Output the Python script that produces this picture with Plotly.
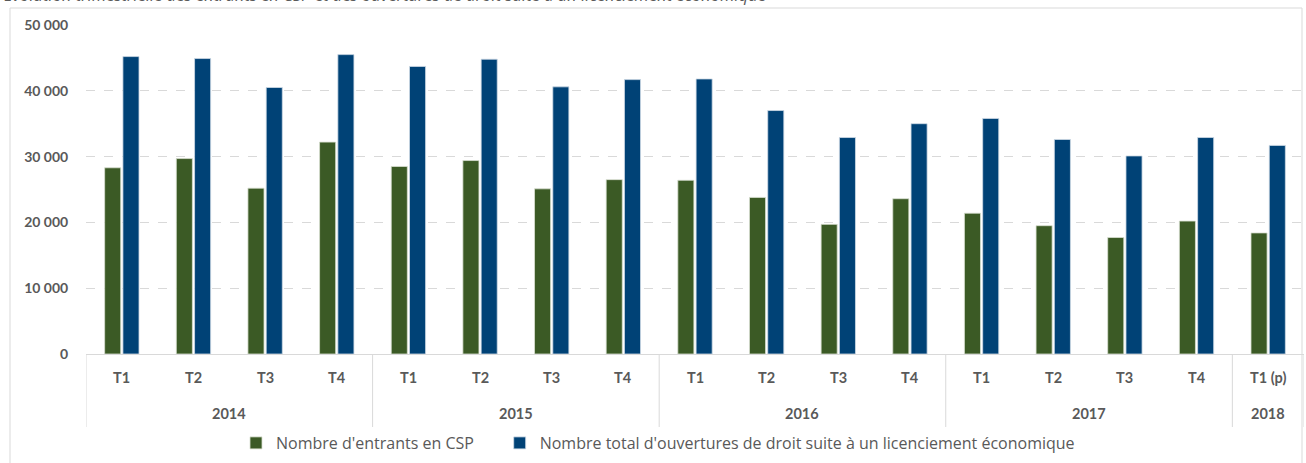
import plotly.graph_objects as go

years = ["2014"] * 4 + ["2015"] * 4 + ["2016"] * 4 + ["2017"] * 4 + ["2018"]
quarters = ["T1", "T2", "T3", "T4"] * 4 + ["T1 (p)"]
year_labels = ["2014", "2015", "2016", "2017", "2018"]

entrants_csp = [28300, 29700, 25200, 32200,
                28500, 29400, 25100, 26500,
                26400, 23800, 19700, 23600,
                21400, 19500, 17700, 20200,
                18400]
ouvertures_droit = [45200, 44900, 40500, 45500,
                    43700, 44800, 40600, 41700,
                    41800, 37000, 32900, 35000,
                    35800, 32600, 30100, 32900,
                    31700]

series_names = ["Nombre d'entrants en CSP",
                "Nombre total d'ouvertures de droit suite à un licenciement économique"]
title_text = ("Évolution trimestrielle des entrants en CSP et des ouvertures de droit "
              "suite à un licenciement économique")

W, H = 1306, 463
L, R, T, B = 86, 2, 25, 109
pw, ph = W - L - R, H - T - B

def px_x(p):
    return (p - L) / pw

def px_y(p):
    return (H - B - p) / ph

cats = [f"{y} {q}" for y, q in zip(years, quarters)]

fig = go.Figure()
fig.add_trace(go.Bar(x=cats, y=entrants_csp, name=series_names[0] + "\u00a0" * 5,
                     marker=dict(color="#3B5A25", line=dict(color="#d9e0d2", width=0.8))))
fig.add_trace(go.Bar(x=cats, y=ouvertures_droit, name=series_names[1],
                     marker=dict(color="#004276", line=dict(color="#cfdbe6", width=0.8))))

annotations = []
for i, q in enumerate(quarters):
    annotations.append(dict(text=f"<b>{q}</b>", xref="x", yref="paper", x=i, y=px_y(377),
                            xanchor="center", yanchor="middle", showarrow=False,
                            font=dict(size=14.5, color="#595959")))
shapes = []
bounds = [-0.5]
for yl in year_labels:
    idx = [i for i, y in enumerate(years) if y == yl]
    annotations.append(dict(text=f"<b>{yl}</b>", xref="x", yref="paper",
                            x=(idx[0] + idx[-1]) / 2, y=px_y(413),
                            xanchor="center", yanchor="middle", showarrow=False,
                            font=dict(size=14.5, color="#595959")))
    bounds.append(idx[-1] + 0.5)
for bx in bounds:
    shapes.append(dict(type="line", xref="x", yref="paper", x0=bx, x1=bx,
                       y0=0, y1=px_y(427), line=dict(color="#d9d9d9", width=1)))

shapes.append(dict(type="rect", xref="paper", yref="paper",
                   x0=px_x(10), x1=px_x(1302), y0=px_y(475), y1=px_y(8),
                   line=dict(color="#d9d9d9", width=1), fillcolor="rgba(0,0,0,0)",
                   layer="below"))
annotations.append(dict(text=title_text, xref="paper", yref="paper", x=px_x(2), y=px_y(-5),
                        xanchor="left", yanchor="middle", showarrow=False,
                        font=dict(family="Open Sans, sans-serif", size=16.5, color="#595959",
                                  style="italic")))

fig.update_layout(
    width=W, height=H,
    margin=dict(l=L, r=R, t=T, b=B, autoexpand=False),
    plot_bgcolor="white", paper_bgcolor="white",
    barmode="group", bargap=0.49, bargroupgap=0.12,
    separators=", ",
    font=dict(family="Lato, Open Sans, sans-serif", color="#595959"),
    showlegend=True,
    legend=dict(orientation="h", x=px_x(236), xanchor="left", y=px_y(443), yanchor="middle",
                font=dict(family="Open Sans, sans-serif", size=16, color="#595959"),
                traceorder="normal", bgcolor="rgba(0,0,0,0)"),
    xaxis=dict(type="category", showgrid=False, showline=True, linecolor="#d9d9d9",
               linewidth=1, showticklabels=False, ticks="", range=[-0.5, 16.5]),
    yaxis=dict(range=[0, 50000], dtick=10000, tickformat=",d", showgrid=True,
               gridcolor="#d9d9d9", griddash="dash", gridwidth=1, zeroline=False,
               showline=False, ticks="outside", ticklen=14, tickcolor="rgba(0,0,0,0)",
               tickfont=dict(size=14, color="#595959", weight="bold")),
    shapes=shapes,
    annotations=annotations,
)

fig.write_html("out.html", config={"displayModeBar": False},
               post_script="document.body.style.margin='0';")
